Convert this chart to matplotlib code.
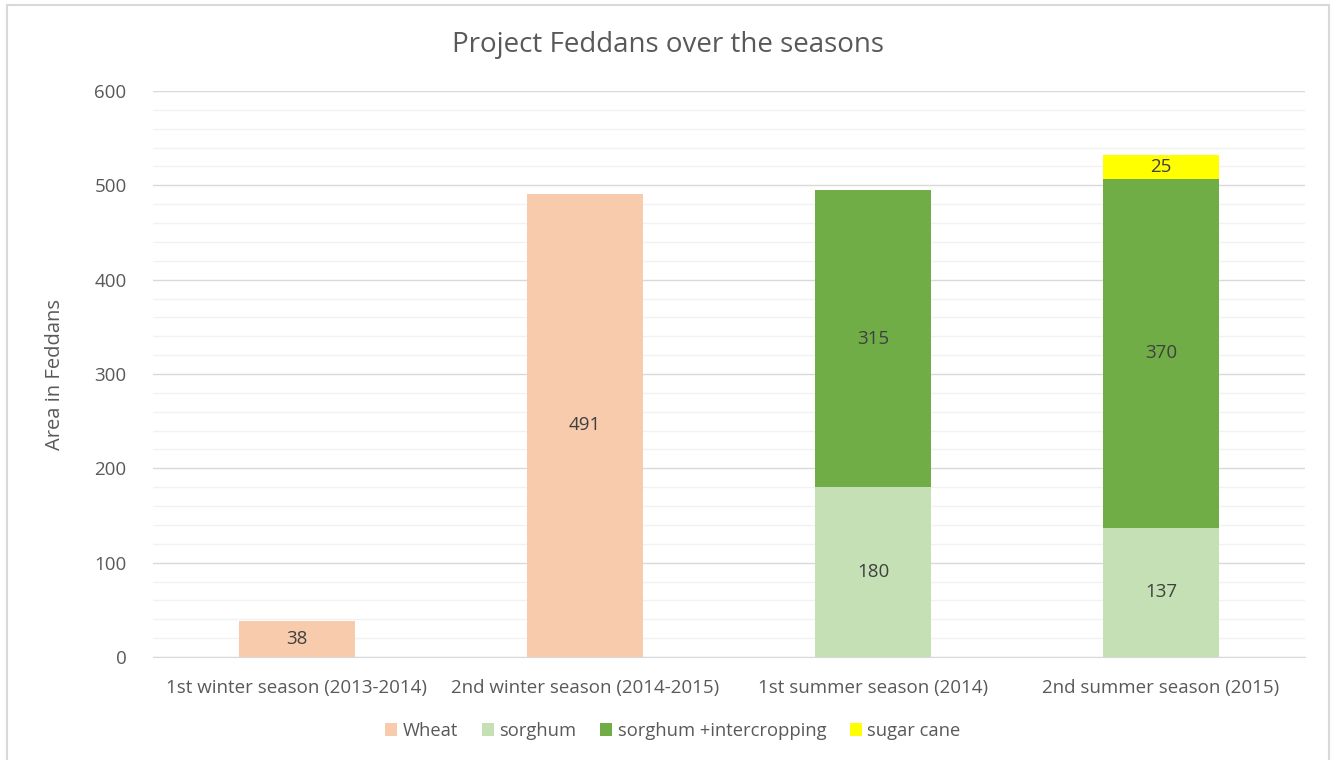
import matplotlib
matplotlib.use("Agg")
import matplotlib.pyplot as plt
from matplotlib.lines import Line2D
from matplotlib.ticker import MultipleLocator
import numpy as np

plt.rcParams['font.family'] = ['Open Sans', 'DejaVu Sans']

categories = ["1st winter season (2013-2014)", "2nd winter season (2014-2015)",
              "1st summer season (2014)", "2nd summer season (2015)"]
series_names = ["Wheat", "sorghum", "sorghum +intercropping", "sugar cane"]
wheat = [38, 491, 0, 0]
sorghum = [0, 0, 180, 137]
sorghum_inter = [0, 0, 315, 370]
sugar_cane = [0, 0, 0, 25]
colors = ["#F8CBAD", "#C5E0B4", "#70AD47", "#FFFF00"]
yticks = [0, 100, 200, 300, 400, 500, 600]

fig = plt.figure(figsize=(13.33, 7.6), dpi=100)
ax = fig.add_axes([153/1333, 103/760, (1305-153)/1333, (657-91)/760])

x = np.arange(len(categories))
bottom = np.zeros(len(categories))
text_col = "#595959"
for vals, name, col in zip([wheat, sorghum, sorghum_inter, sugar_cane], series_names, colors):
    vals = np.array(vals, dtype=float)
    ax.bar(x, vals, width=0.4, bottom=bottom, color=col, label=name, zorder=3)
    for xi, v, b in zip(x, vals, bottom):
        if v > 0:
            ax.text(xi, b + v / 2, f"{int(v)}", ha="center", va="center",
                    fontsize=13.5, color="#404040", zorder=4)
    bottom += vals

ax.set_xlim(-0.5, 3.5)
ax.set_ylim(0, 600)
ax.set_yticks(yticks)
ax.yaxis.set_minor_locator(MultipleLocator(20))
ax.set_xticks(x)
ax.set_xticklabels(categories)
ax.tick_params(axis="both", which="both", length=0, labelsize=13.5, colors=text_col)
ax.tick_params(axis="y", pad=19)
ax.tick_params(axis="x", pad=16)
ax.grid(axis="y", which="major", color="#D9D9D9", linewidth=1, zorder=0)
ax.grid(axis="y", which="minor", color="#F2F2F2", linewidth=1, zorder=0)
for s in ["top", "right", "left"]:
    ax.spines[s].set_visible(False)
ax.spines["bottom"].set_color("#D9D9D9")
ax.set_axisbelow(True)

ax.set_ylabel("Area in Feddans", fontsize=14.5, color=text_col, labelpad=21)

fig.text(668/1333, 1 - 45/760, "Project Feddans over the seasons", ha="center", va="center",
         fontsize=20, color=text_col)

fig.legend(loc="center", bbox_to_anchor=(673/1333, 1 - 731/760), ncol=4, frameon=False,
           fontsize=13.2, handlelength=0.65, handleheight=0.65, handletextpad=0.3,
           columnspacing=1.3, labelcolor=text_col)

border_col = "#D9D9D9"
fig.add_artist(Line2D([7/1333, 7/1333], [0, 1 - 5/760], transform=fig.transFigure, color=border_col, lw=1.5))
fig.add_artist(Line2D([1329/1333, 1329/1333], [0, 1 - 5/760], transform=fig.transFigure, color=border_col, lw=1.5))
fig.add_artist(Line2D([7/1333, 1329/1333], [1 - 5/760, 1 - 5/760], transform=fig.transFigure, color=border_col, lw=1.5))

fig.savefig("out.png", dpi=100)
